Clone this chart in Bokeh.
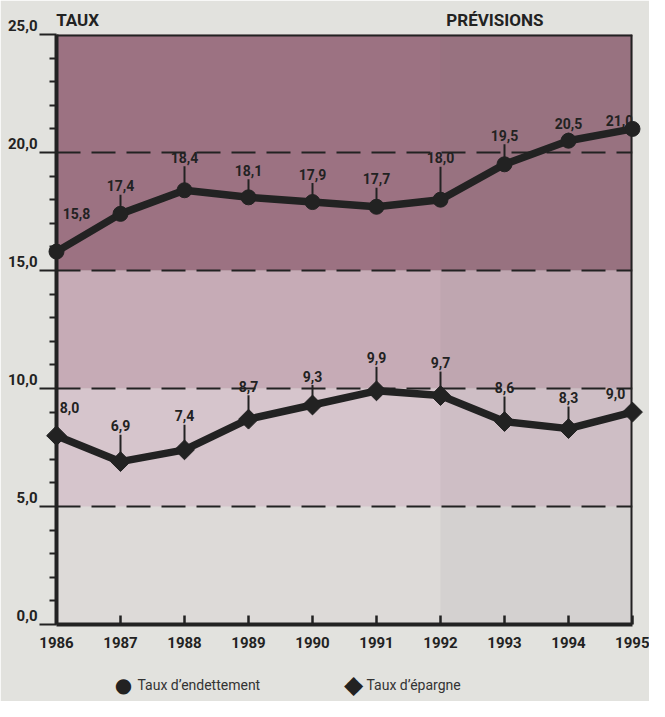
import math
from bokeh.plotting import figure
from bokeh.models import (Range1d, FixedTicker, Span, BoxAnnotation, LinearAxis,
                          ColumnDataSource)
from bokeh.embed import file_html
from bokeh.resources import INLINE
from bokeh.core.properties import value

# ---------------- data ----------------
years = [1986, 1987, 1988, 1989, 1990, 1991, 1992, 1993, 1994, 1995]
endettement = [15.8, 17.4, 18.4, 18.1, 17.9, 17.7, 18.0, 19.5, 20.5, 21.0]
epargne = [8.0, 6.9, 7.4, 8.7, 9.3, 9.9, 9.7, 8.6, 8.3, 9.0]
y_ticks = [0, 5, 10, 15, 20, 25]
y_tick_labels = ["0,0", "5,0", "10,0", "15,0", "20,0", "25,0"]
forecast_start = 1992
header_texts = ["TAUX", "PR\u00c9VISIONS"]
series_names = ["Taux d\u2019endettement", "Taux d\u2019\u00e9pargne"]
legend_symbols = ["\u25cf", "\u25c6"]

# ---------------- label / legend placement (pixels) ----------------
end_dx = [20, 0, 0, 0, 0, 0, 0, 0, 0, -13]
end_dy = [38, 28, 33, 27, 28, 28, 42, 29, 17, 8]
epa_dx = [13, 0, 0, 0, 0, 0, 0, 0, 0, -17]
epa_dy = [28, 36, 34, 33, 29, 33, 33, 34, 31, 19]
header_pos = [years[0] + 0.33, forecast_start + 0.85]
legend_marker_px = [67, 297]     # from frame left
legend_text_px = [81, 310]
legend_symbol_size = ["20px", "25px"]
legend_drop_px = 60              # below frame bottom

INK = "#222222"
FONT = "Roboto"
W, H = 649, 701
B_LEFT, B_RIGHT, B_TOP, B_BOTTOM = 56, 17, 34, 77
ppu = (H - B_TOP - B_BOTTOM) / 25.0
ppx = (W - B_LEFT - B_RIGHT) / (years[-1] - years[0])

p = figure(width=W, height=H, output_backend="svg", toolbar_location=None,
           x_range=Range1d(years[0], years[-1]), y_range=Range1d(0, 25),
           min_border_left=B_LEFT, min_border_right=B_RIGHT,
           min_border_top=B_TOP, min_border_bottom=B_BOTTOM,
           background_fill_color="#dddad8", border_fill_color="#e2e2de",
           outline_line_color=None)

# background bands
bands = [(0, 5, "#dddad8"), (5, 10, "#d6c5cc"), (10, 15, "#c6abb6"), (15, 25, "#9c7282")]
for b0, b1, c in bands:
    p.add_layout(BoxAnnotation(bottom=b0, top=b1, fill_color=c, fill_alpha=1.0,
                               line_color=None, level="image"))
p.add_layout(BoxAnnotation(left=forecast_start, fill_color="#6f6f6f", fill_alpha=0.08,
                           line_color=None, level="image"))

# grid (dashed)
p.xgrid.visible = False
p.ygrid.ticker = FixedTicker(ticks=y_ticks[1:-1])
p.ygrid.grid_line_color = INK
p.ygrid.grid_line_width = 2
p.ygrid.grid_line_dash = "24 11"

# left axis: labels lifted above their tick lines (second, empty text line)
p.yaxis.ticker = FixedTicker(ticks=y_ticks,
                             minor_ticks=[t for t in range(1, 25) if t % 5 != 0])
p.yaxis.axis_line_width = 4
p.yaxis.axis_line_color = INK
p.yaxis.major_tick_out = 17
p.yaxis.major_tick_in = 0
p.yaxis.major_tick_line_width = 2
p.yaxis.major_tick_line_color = INK
p.yaxis.minor_tick_out = 7
p.yaxis.minor_tick_in = 0
p.yaxis.minor_tick_line_width = 2
p.yaxis.minor_tick_line_color = INK
p.yaxis.major_label_standoff = 2
p.yaxis.major_label_overrides = {t: lab + "\n " for t, lab in zip(y_ticks, y_tick_labels)}
p.yaxis.major_label_text_font = FONT
p.yaxis.major_label_text_font_style = "bold"
p.yaxis.major_label_text_font_size = "15px"
p.yaxis.major_label_text_color = INK
p.yaxis.major_label_text_line_height = 0.95

# bottom axis
p.xaxis.ticker = FixedTicker(ticks=years)
p.xaxis.axis_line_width = 4
p.xaxis.axis_line_color = INK
p.xaxis.major_tick_in = 9
p.xaxis.major_tick_out = 0
p.xaxis.major_tick_line_width = 2.5
p.xaxis.major_tick_line_color = INK
p.xaxis.minor_tick_line_color = None
p.xaxis.major_label_standoff = 12
p.xaxis.major_label_text_font = FONT
p.xaxis.major_label_text_font_style = "bold"
p.xaxis.major_label_text_font_size = "15px"
p.xaxis.major_label_text_color = INK

# header texts as a top axis without line/ticks
top = LinearAxis(ticker=FixedTicker(ticks=header_pos),
                 major_label_overrides={t: s for t, s in zip(header_pos, header_texts)},
                 axis_line_color=None, major_tick_line_color=None, minor_tick_line_color=None,
                 major_tick_in=0, major_tick_out=0, minor_tick_in=0, minor_tick_out=0,
                 major_label_standoff=5, major_label_text_font=FONT,
                 major_label_text_font_style="bold", major_label_text_font_size="17px",
                 major_label_text_color=INK)
p.add_layout(top, "above")


def fr(v):
    return f"{v:.1f}".replace(".", ",")


def add_labels(vals, dxs, dys):
    lead = [(dy - 9) if dx == 0 else 0 for dx, dy in zip(dxs, dys)]
    src = ColumnDataSource(dict(
        x=years, y=vals, y1=[v + l / ppu for v, l in zip(vals, lead)],
        t=[fr(v) for v in vals], dx=dxs, dy=[-d for d in dys]))
    p.segment(x0="x", y0="y", x1="x", y1="y1", source=src, line_color=INK, line_width=2)
    p.text(x="x", y="y", text="t", x_offset="dx", y_offset="dy", source=src,
           text_align="center", text_baseline="middle", text_font=value(FONT),
           text_font_style="bold", text_font_size="14px", text_color=INK)


add_labels(endettement, end_dx, end_dy)
add_labels(epargne, epa_dx, epa_dy)

# borders (top, right)
p.add_layout(Span(location=25, dimension="width", line_color=INK, line_width=4))
p.add_layout(Span(location=years[-1], dimension="height", line_color=INK, line_width=4))

# series
p.line(years, endettement, line_width=7.5, line_color=INK, line_join="round", level="overlay")
p.scatter(years, endettement, marker="circle", size=15, fill_color=INK,
          line_color=INK, level="overlay")
p.line(years, epargne, line_width=7.5, line_color=INK, line_join="round", level="overlay")
p.scatter(years, epargne, marker="square", angle=math.pi / 4, size=14,
          fill_color=INK, line_color=INK, level="overlay")

# legend (drawn below the frame)
leg_y = -legend_drop_px / ppu
leg_src = ColumnDataSource(dict(
    mx=[years[0] + px / ppx for px in legend_marker_px],
    tx=[years[0] + px / ppx for px in legend_text_px],
    y=[leg_y, leg_y], sym=legend_symbols, size=legend_symbol_size, name=series_names))
p.text(x="mx", y="y", text="sym", source=leg_src, text_align="center",
       text_baseline="middle", text_font=value("DejaVu Sans"),
       text_font_size="size", text_color=INK, level="overlay")
p.text(x="tx", y="y", text="name", source=leg_src, text_align="left",
       text_baseline="middle", text_font=value(FONT), text_font_size="14px",
       text_color="#333333", level="overlay")

open("out.html", "w").write(file_html(p, INLINE))
